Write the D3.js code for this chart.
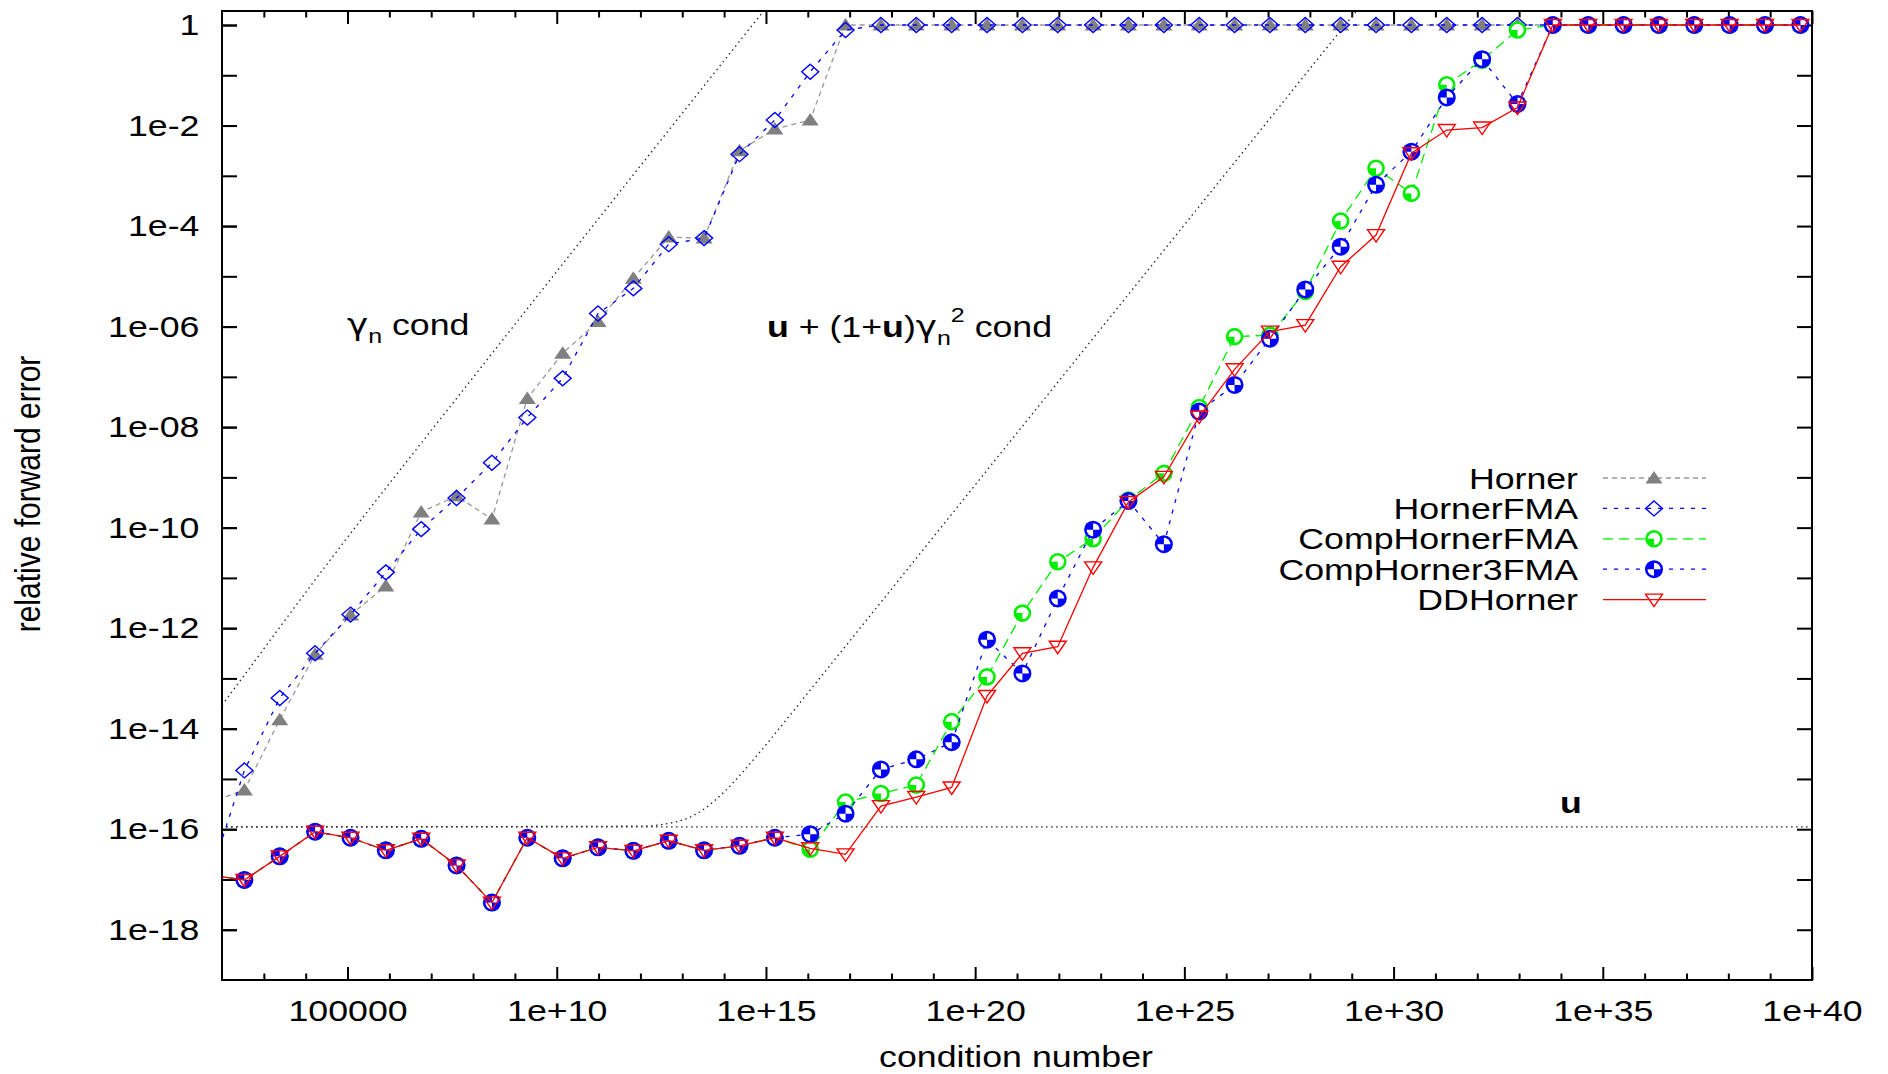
<!DOCTYPE html>
<meta charset="utf-8">
<head>
<style>
body {
  margin: 0;
  background: #fff;
}

text {
  font-family: 'Liberation Sans', Arial, Helvetica, sans-serif;
  font-size: 30px;
  fill: #000;
}

.greek {
  font-family: 'DejaVu Sans', sans-serif;
}

.axis path {
  display: none;
}

.axis line {
  stroke: #000;
  stroke-width: 2px;
}
</style>
</head>

<body>
<div id="chart"></div>

<script src="https://d3js.org/d3.v7.min.js"></script>
<script>

// log10 of the condition number of each test polynomial (first one falls left of the frame)
var condLog10 = [1.690, 2.535, 3.380, 4.226, 5.071, 5.916, 6.761, 7.606, 8.451, 9.297,
  10.142, 10.987, 11.832, 12.677, 13.522, 14.368, 15.213, 16.058, 16.903, 17.748,
  18.593, 19.439, 20.284, 21.129, 21.974, 22.819, 23.664, 24.510, 25.355, 26.200,
  27.045, 27.890, 28.735, 29.581, 30.426, 31.271, 32.116, 32.961, 33.806, 34.652,
  35.497, 36.342, 37.187, 38.032, 38.877, 39.723];

// log10 of the relative forward error, one array per algorithm
var horner = [-15.47, -15.22, -13.82, -12.52, -11.74, -11.16, -9.69, -9.37, -9.83, -7.43,
  -6.53, -5.90, -5.04, -4.22, -4.24, -2.50, -2.07, -1.89, 0, 0,
  0, 0, 0, 0, 0, 0, 0, 0, 0, 0,
  0, 0, 0, 0, 0, 0, 0, 0, 0, 0,
  0, 0, 0, 0, 0, 0];

var hornerFMA = [-17.00, -14.83, -13.39, -12.50, -11.73, -10.89, -10.03, -9.41, -8.71, -7.81,
  -7.03, -5.74, -5.24, -4.36, -4.24, -2.57, -1.89, -0.93, -0.10, 0,
  0, 0, 0, 0, 0, 0, 0, 0, 0, 0,
  0, 0, 0, 0, 0, 0, 0, 0, 0, 0,
  0, 0, 0, 0, 0, 0];

var compHornerFMA = [-16.91, -17.01, -16.54, -16.05, -16.17, -16.42, -16.19, -16.72, -17.46, -16.17,
  -16.58, -16.36, -16.43, -16.23, -16.42, -16.33, -16.17, -16.40, -15.46, -15.29,
  -15.12, -13.86, -12.97, -11.70, -10.68, -10.22, -9.45, -8.92, -7.61, -6.20,
  -6.17, -5.30, -3.90, -2.85, -3.35, -1.19, -0.70, -0.10, 0, 0,
  0, 0, 0, 0, 0, 0];

var compHorner3FMA = [-16.91, -17.01, -16.54, -16.05, -16.17, -16.42, -16.19, -16.72, -17.46, -16.17,
  -16.58, -16.36, -16.43, -16.23, -16.42, -16.33, -16.17, -16.10, -15.69, -14.81,
  -14.61, -14.27, -12.23, -12.90, -11.41, -10.04, -9.47, -10.33, -7.69, -7.16,
  -6.24, -5.26, -4.41, -3.18, -2.52, -1.44, -0.68, -1.57, 0, 0,
  0, 0, 0, 0, 0, 0];

var ddHorner = [-16.91, -17.01, -16.54, -16.05, -16.17, -16.42, -16.19, -16.72, -17.46, -16.17,
  -16.58, -16.36, -16.43, -16.23, -16.42, -16.33, -16.17, -16.38, -16.50, -15.54,
  -15.36, -15.17, -13.35, -12.50, -12.37, -10.79, -9.49, -8.99, -7.79, -6.85,
  -6.10, -5.97, -4.81, -4.18, -2.55, -2.09, -2.04, -1.64, 0, 0,
  0, 0, 0, 0, 0, 0];

var seriesNames = ["Horner", "HornerFMA", "CompHornerFMA", "CompHorner3FMA", "DDHorner"];

// a priori bounds, [log10 cond, log10 bound]
var uLog10 = -15.955;
var gammaBound = [[1.5, -14.09], [2.02, -13.51], [4.58, -10.65], [8.25, -6.75], [15.5, 0.86]];
var ddBound = [[1.5, -15.955], [12, -15.94], [13, -15.82], [13.5, -15.61], [14, -15.26],
  [14.5, -14.81], [15, -14.32], [16, -13.29], [20.61, -8.52], [30, 1.2]];

var xTickValues = [1e5, 1e10, 1e15, 1e20, 1e25, 1e30, 1e35, 1e40];
var xTickLabels = ["100000", "1e+10", "1e+15", "1e+20", "1e+25", "1e+30", "1e+35", "1e+40"];
var yTickValues = [1, 1e-2, 1e-4, 1e-6, 1e-8, 1e-10, 1e-12, 1e-14, 1e-16, 1e-18];
var yTickLabels = ["1", "1e-2", "1e-4", "1e-06", "1e-08", "1e-10", "1e-12", "1e-14", "1e-16", "1e-18"];

var margin = {top: 11, right: 76, bottom: 94, left: 222},
    width = 1888 - margin.left - margin.right,
    height = 1074 - margin.top - margin.bottom;

// gnuplot output was stretched sideways, so text gets the same squeeze
var stretch = 1.19;

var x = d3.scaleLog()
    .domain([1e2, 1e40])
    .range([0, width]);

var y = d3.scaleLog()
    .domain([1e-19, 1.9])
    .range([height, 0]);

var root = d3.select("#chart").append("svg")
    .attr("width", 1888)
    .attr("height", 1074);

var svg = root.append("g")
    .attr("transform", "translate(" + margin.left + "," + margin.top + ")");

svg.append("clipPath")
    .attr("id", "plot-clip")
  .append("rect")
    .attr("width", width)
    .attr("height", height);

// ticks: labelled ones plus a minor tick at every decade on x
var xMinor = d3.range(3, 40).filter(function(e) { return e % 5 !== 0; })
    .map(function(e) { return Math.pow(10, e); });
var yAll = d3.range(0, -19, -1).map(function(e) { return Math.pow(10, e); });

svg.append("g")
    .attr("class", "x axis")
    .attr("transform", "translate(0," + height + ")")
    .call(d3.axisBottom(x).tickValues(xTickValues)
      .tickFormat(function(d, i) { return xTickLabels[i]; })
      .tickSize(-13).tickPadding(20))
  .selectAll("text")
    .attr("transform", "scale(" + stretch + ",1)");

svg.append("g")
    .attr("class", "x axis")
    .attr("transform", "translate(0," + height + ")")
    .call(d3.axisBottom(x).tickValues(xMinor).tickFormat("").tickSize(-6.5));

svg.append("g")
    .attr("class", "x axis")
    .call(d3.axisTop(x).tickValues(xTickValues).tickFormat("").tickSize(-13));

svg.append("g")
    .attr("class", "x axis")
    .call(d3.axisTop(x).tickValues(xMinor).tickFormat("").tickSize(-6.5));

svg.append("g")
    .attr("class", "y axis")
    .call(d3.axisLeft(y).tickValues(yAll).tickFormat("").tickSize(-15));

svg.append("g")
    .attr("class", "y axis")
    .call(d3.axisLeft(y).tickValues(yTickValues)
      .tickFormat(function(d, i) { return yTickLabels[i]; })
      .tickSize(-15).tickPadding(19))
  .selectAll("text")
    .attr("transform", "scale(" + stretch + ",1)");

svg.append("g")
    .attr("class", "y axis")
    .attr("transform", "translate(" + width + ",0)")
    .call(d3.axisRight(y).tickValues(yAll).tickFormat("").tickSize(-15));

svg.selectAll(".axis text")
    .attr("font-size", null)
    .attr("font-family", null);

svg.append("rect")
    .attr("width", width)
    .attr("height", height)
    .attr("fill", "none")
    .attr("stroke", "#000")
    .attr("stroke-width", 2);

var plot = svg.append("g")
    .attr("clip-path", "url(#plot-clip)");

// bounds (dotted)
var boundLine = d3.line()
    .x(function(d) { return x(Math.pow(10, d[0])); })
    .y(function(d) { return y(Math.pow(10, d[1])); })
    .curve(d3.curveMonotoneX);

[[[1.5, uLog10], [40, uLog10]], gammaBound, ddBound].forEach(function(b) {
  plot.append("path")
      .attr("d", boundLine(b))
      .attr("fill", "none")
      .attr("stroke", "#222")
      .attr("stroke-width", 1.3)
      .attr("stroke-dasharray", "1.5,3.5");
});

var series = [
  {name: seriesNames[0], values: horner, color: "#999", dash: "5,4", marker: "triUp"},
  {name: seriesNames[1], values: hornerFMA, color: "#0000ff", dash: "4,7", marker: "diamond"},
  {name: seriesNames[2], values: compHornerFMA, color: "#00ee00", dash: "10,6", marker: "ringQuarter"},
  {name: seriesNames[3], values: compHorner3FMA, color: "#0000ff", dash: "4,7", marker: "discQuarters"},
  {name: seriesNames[4], values: ddHorner, color: "#ff0000", dash: null, marker: "triDown"}
];

var quarter = d3.arc().innerRadius(0);

function drawMarker(g, type) {
  if (type === "triUp") {
    g.append("path").attr("d", "M0,-7L8.5,5.5L-8.5,5.5Z").attr("fill", "#808080");
  } else if (type === "diamond") {
    g.append("path").attr("d", "M0,-7.5L8.5,0L0,7.5L-8.5,0Z")
        .attr("fill", "none").attr("stroke", "#0000ff").attr("stroke-width", 1.4);
  } else if (type === "ringQuarter") {
    g.append("circle").attr("r", 7.5)
        .attr("fill", "#fff").attr("stroke", "#00ee00").attr("stroke-width", 2.6);
    g.append("path").attr("fill", "#00ee00")
        .attr("d", quarter({outerRadius: 7.5, startAngle: Math.PI, endAngle: 1.5 * Math.PI}));
  } else if (type === "discQuarters") {
    g.append("circle").attr("r", 9).attr("fill", "#0000ff");
    g.append("path").attr("fill", "#fff")
        .attr("d", quarter({outerRadius: 6.5, startAngle: 0, endAngle: 0.5 * Math.PI}));
    g.append("path").attr("fill", "#fff")
        .attr("d", quarter({outerRadius: 6.5, startAngle: Math.PI, endAngle: 1.5 * Math.PI}));
  } else {
    g.append("path").attr("d", "M-8.5,-5.5L8.5,-5.5L0,7Z")
        .attr("fill", "none").attr("stroke", "#ff0000").attr("stroke-width", 1.4);
  }
}

var line = d3.line()
    .x(function(d) { return x(d.c); })
    .y(function(d) { return y(d.v); });

series.forEach(function(s) {
  var pts = s.values.map(function(v, i) {
    return {c: Math.pow(10, condLog10[i]), v: Math.pow(10, v)};
  });

  plot.append("path")
      .attr("d", line(pts))
      .attr("fill", "none")
      .attr("stroke", s.color)
      .attr("stroke-width", 1.3)
      .attr("stroke-dasharray", s.dash);

  plot.selectAll(null)
      .data(pts)
    .enter().append("g")
      .attr("transform", function(d) { return "translate(" + x(d.c) + "," + y(d.v) + ")"; })
      .each(function() { drawMarker(d3.select(this), s.marker); });
});

// legend
var legend = root.append("g");

series.forEach(function(s, i) {
  var cy = 478 + i * 30.4;
  legend.append("text")
      .attr("transform", "translate(1578," + (cy + 10.5) + ") scale(" + stretch + ",1)")
      .attr("text-anchor", "end")
      .text(s.name);
  legend.append("line")
      .attr("x1", 1603).attr("x2", 1706)
      .attr("y1", cy).attr("y2", cy)
      .attr("stroke", s.color)
      .attr("stroke-width", 1.3)
      .attr("stroke-dasharray", s.dash);
  drawMarker(legend.append("g").attr("transform", "translate(1654," + cy + ")"), s.marker);
});

// annotations
var t1 = root.append("text")
    .attr("transform", "translate(347,335) scale(" + stretch + ",1)");
t1.append("tspan").attr("class", "greek").text("γ");
t1.append("tspan").attr("font-size", 21).attr("dy", 8).text("n");
t1.append("tspan").attr("dy", -8).text(" cond");

var t2 = root.append("text")
    .attr("transform", "translate(767,337) scale(" + stretch + ",1)");
t2.append("tspan").attr("font-weight", "bold").text("u");
t2.append("tspan").text(" + (1+");
t2.append("tspan").attr("font-weight", "bold").text("u");
t2.append("tspan").text(")");
t2.append("tspan").attr("class", "greek").text("γ");
t2.append("tspan").attr("font-size", 21).attr("dy", 8).text("n");
t2.append("tspan").attr("font-size", 21).attr("dy", -23).text("2");
t2.append("tspan").attr("dy", 15).text(" cond");

root.append("text")
    .attr("transform", "translate(1571,813) scale(" + stretch + ",1)")
    .attr("text-anchor", "middle")
    .attr("font-weight", "bold")
    .text("u");

root.append("text")
    .attr("transform", "translate(1016,1067) scale(" + stretch + ",1)")
    .attr("text-anchor", "middle")
    .text("condition number");

root.append("text")
    .attr("transform", "translate(40,494) scale(" + stretch + ",1) rotate(-90)")
    .attr("text-anchor", "middle")
    .text("relative forward error");

</script>
</body>
